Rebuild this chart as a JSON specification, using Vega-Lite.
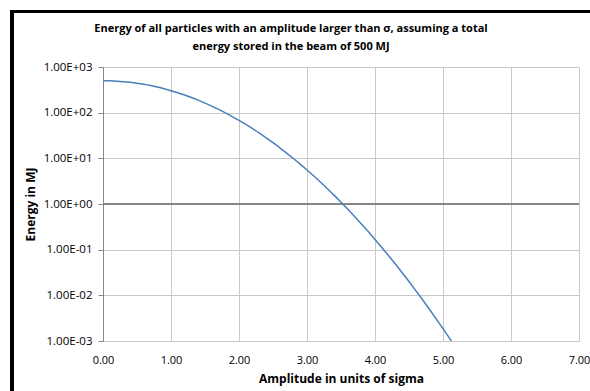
{
  "$schema": "https://vega.github.io/schema/vega-lite/v6.json",
  "width": 476,
  "height": 274,
  "autosize": "none",
  "padding": {"left": 103, "top": 67, "right": 11, "bottom": 50},
  "background": "white",
  "config": {
    "view": {"stroke": null},
    "font": "Open Sans",
    "axis": {"labelFont": "Open Sans", "titleFont": "Open Sans", "labelColor": "#000000", "titleColor": "#000000"}
  },
  "title": {
    "text": ["Energy of all particles with an amplitude larger than σ, assuming a total", "energy stored in the beam of 500 MJ"],
    "font": "Open Sans",
    "fontSize": 11,
    "fontWeight": "bold",
    "color": "#000000",
    "anchor": "middle",
    "dx": -50,
    "offset": -42,
    "lineHeight": 18
  },
  "data": {
    "values": [
      {"x": 0.0, "e": 500}, {"x": 0.1, "e": 497.5}, {"x": 0.2, "e": 490.1}, {"x": 0.3, "e": 478.0},
      {"x": 0.4, "e": 461.6}, {"x": 0.5, "e": 441.2}, {"x": 0.6, "e": 417.6}, {"x": 0.7, "e": 391.4},
      {"x": 0.8, "e": 363.1}, {"x": 0.9, "e": 333.5}, {"x": 1.0, "e": 303.3}, {"x": 1.1, "e": 273.0},
      {"x": 1.2, "e": 243.4}, {"x": 1.3, "e": 214.8}, {"x": 1.4, "e": 187.7}, {"x": 1.5, "e": 162.3},
      {"x": 1.6, "e": 139.0}, {"x": 1.7, "e": 117.9}, {"x": 1.8, "e": 98.95}, {"x": 1.9, "e": 82.24},
      {"x": 2.0, "e": 67.67}, {"x": 2.1, "e": 55.13}, {"x": 2.2, "e": 44.46}, {"x": 2.3, "e": 35.50},
      {"x": 2.4, "e": 28.07}, {"x": 2.5, "e": 21.97}, {"x": 2.6, "e": 17.02}, {"x": 2.7, "e": 13.06},
      {"x": 2.8, "e": 9.921}, {"x": 2.9, "e": 7.460}, {"x": 3.0, "e": 5.554}, {"x": 3.1, "e": 4.095},
      {"x": 3.2, "e": 2.988}, {"x": 3.3, "e": 2.159}, {"x": 3.4, "e": 1.544}, {"x": 3.5, "e": 1.094},
      {"x": 3.6, "e": 0.7669}, {"x": 3.7, "e": 0.5325}, {"x": 3.8, "e": 0.3658}, {"x": 3.9, "e": 0.2489},
      {"x": 4.0, "e": 0.1677}, {"x": 4.1, "e": 0.1119}, {"x": 4.2, "e": 0.07387}, {"x": 4.3, "e": 0.04831},
      {"x": 4.4, "e": 0.03127}, {"x": 4.5, "e": 0.02003}, {"x": 4.6, "e": 0.01271}, {"x": 4.7, "e": 0.007983},
      {"x": 4.8, "e": 0.004965}, {"x": 4.9, "e": 0.003057}, {"x": 5.0, "e": 0.001863}, {"x": 5.1, "e": 0.001125},
      {"x": 5.2, "e": 0.000672}
    ]
  },
  "layer": [
    {
      "mark": {"type": "rule", "color": "#868686", "strokeWidth": 1},
      "encoding": {
        "y": {"datum": 1, "type": "quantitative", "scale": {"type": "log", "domain": [0.001, 1000]}}
      }
    },
    {
      "mark": {"type": "line", "color": "#4A7EBB", "strokeWidth": 1.5, "clip": true, "interpolate": "monotone"},
      "encoding": {
        "x": {
          "field": "x", "type": "quantitative",
          "scale": {"domain": [0, 7], "nice": false, "zero": false},
          "axis": {
            "values": [0, 1, 2, 3, 4, 5, 6, 7],
            "format": ".2f",
            "title": "Amplitude in units of sigma",
            "titleFontSize": 12,
            "titleFontWeight": "bold",
            "titleBaseline": "middle",
            "titleY": 37,
            "labelFontSize": 11,
            "labelPadding": 13,
            "labelFlush": false,
            "domain": false,
            "ticks": false,
            "grid": true,
            "gridColor": "#C8C8C8",
            "gridWidth": 1
          }
        },
        "y": {
          "field": "e", "type": "quantitative",
          "scale": {"type": "log", "domain": [0.001, 1000]},
          "axis": {
            "values": [0.001, 0.01, 0.1, 1, 10, 100, 1000],
            "labelExpr": "'1.00E' + (round(log(datum.value)/LN10) >= 0 ? '+' : '-') + '0' + abs(round(log(datum.value)/LN10))",
            "title": "Energy in MJ",
            "titleFontSize": 12,
            "titleFontWeight": "bold",
            "titleX": -66,
            "titleY": 137,
            "labelFontSize": 11.5,
            "labelPadding": 6,
            "domain": true,
            "domainColor": "#868686",
            "ticks": true,
            "tickColor": "#868686",
            "tickSize": 5,
            "grid": true,
            "gridColor": "#C8C8C8",
            "gridWidth": 1
          }
        }
      }
    },
    {
      "mark": {"type": "rect", "fill": null, "stroke": "#000000", "strokeWidth": 3, "clip": false},
      "encoding": {
        "x": {"datum": -1.34, "type": "quantitative"},
        "x2": {"datum": 7.3},
        "y": {"datum": 16400, "type": "quantitative"},
        "y2": {"datum": 0.00005}
      }
    }
  ]
}
